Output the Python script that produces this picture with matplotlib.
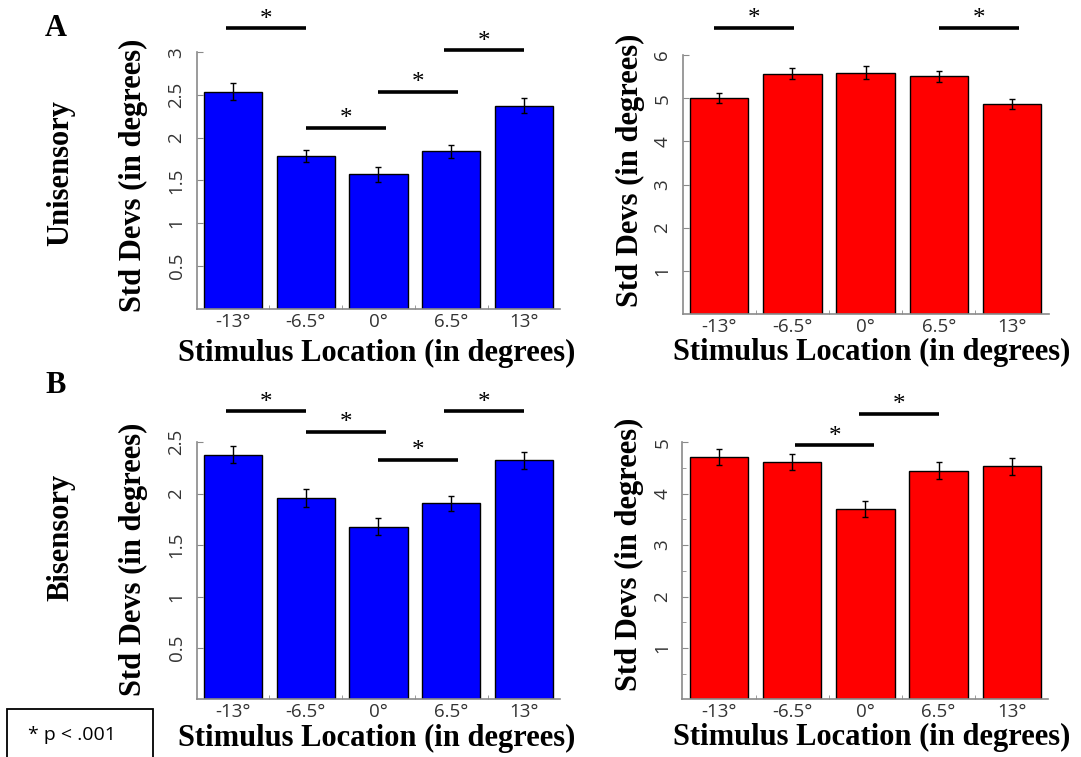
import matplotlib
matplotlib.use('Agg')
import matplotlib.pyplot as plt
from matplotlib.patches import Rectangle
import numpy as np

# stimulus locations (x categories)
locations = ['-13°', '-6.5°', '0°', '6.5°', '13°']

# A: unisensory
uni_vis = [2.535, 1.786, 1.571, 1.84, 2.375]
uni_vis_err = [0.10, 0.07, 0.085, 0.075, 0.09]
uni_aud = [5.01, 5.57, 5.59, 5.51, 4.87]
uni_aud_err = [0.12, 0.13, 0.15, 0.13, 0.12]

# B: bisensory
bi_vis = [2.38, 1.96, 1.68, 1.906, 2.325]
bi_vis_err = [0.085, 0.085, 0.085, 0.073, 0.084]
bi_aud = [4.71, 4.62, 3.70, 4.45, 4.53]
bi_aud_err = [0.15, 0.16, 0.15, 0.16, 0.16]

# significance bars: (from, to, height)
uni_vis_sig = [(0.9, 2.0, 3.28), (2.0, 3.1, 2.11), (3.0, 4.1, 2.535), (3.9, 5.0, 3.02)]
uni_aud_sig = [(0.93, 2.02, 6.63), (4.0, 5.1, 6.63)]
bi_vis_sig = [(0.9, 2.0, 2.80), (2.0, 3.1, 2.60), (3.0, 4.1, 2.33), (3.9, 5.0, 2.80)]
bi_aud_sig = [(2.04, 3.12, 4.94), (2.91, 4.0, 5.56)]

SERIF = 'Liberation Serif'
SANS = 'Open Sans'
W, H = 1081, 757

fig = plt.figure(figsize=(W / 100, H / 100), dpi=100)


def panel(rect, vals, errs, color, ymax, yticks, sig, yminor=None):
    ax = fig.add_axes(rect)
    x = np.arange(1, len(vals) + 1)
    ax.bar(x, vals, width=0.8, color=color, edgecolor='black', linewidth=1, zorder=2)
    ax.errorbar(x, vals, yerr=errs, fmt='none', ecolor='black', elinewidth=1,
                capsize=2.5, capthick=1, zorder=3)
    ax.set_xlim(0.5, 5.5)
    ax.set_ylim(0, ymax)
    ax.set_xticks(x)
    ax.set_xticklabels(locations, family=SANS)
    ax.set_xticks([1.5, 2.5, 3.5, 4.5], minor=True)
    ax.set_yticks(yticks)
    ax.set_yticklabels([f'{v:g}' for v in yticks], rotation=90, va='center', family=SANS)
    if yminor is not None:
        ax.set_yticks(yminor, minor=True)
    for s in ['top', 'right']:
        ax.spines[s].set_visible(False)
    for s in ['left', 'bottom']:
        ax.spines[s].set_color('#8a8a8a')
        ax.spines[s].set_linewidth(1.2)
    ax.tick_params(direction='in', color='#8a8a8a', labelsize=13.5, labelcolor='#333333')
    ax.tick_params(axis='x', which='major', length=0, pad=3)
    ax.tick_params(axis='y', which='major', length=4, pad=8)
    ax.tick_params(which='minor', direction='in', length=3, color='#8a8a8a')
    for x0, x1, h in sig:
        ax.plot([x0, x1], [h, h], color='black', lw=2.6, solid_capstyle='butt', clip_on=False)
        ax.annotate('*', xy=((x0 + x1) / 2, h), xytext=(0, 2), textcoords='offset points',
                    ha='center', va='baseline', fontsize=18, family=SERIF, annotation_clip=False)
    return ax


panel([196.7 / W, 1 - 308.5 / H, 363.5 / W, 256.3 / H], uni_vis, uni_vis_err, '#0000ff',
      3, [0.5, 1, 1.5, 2, 2.5, 3], uni_vis_sig)
panel([682.6 / W, 1 - 314.3 / H, 366 / W, 259.3 / H], uni_aud, uni_aud_err, '#ff0000',
      6, [1, 2, 3, 4, 5, 6], uni_aud_sig)
panel([196.7 / W, 1 - 699.3 / H, 363.5 / W, 257 / H], bi_vis, bi_vis_err, '#0000ff',
      2.5, [0.5, 1, 1.5, 2, 2.5], bi_vis_sig)
panel([682.4 / W, 1 - 699.3 / H, 366 / W, 257 / H], bi_aud, bi_aud_err, '#ff0000',
      5, [1, 2, 3, 4, 5], bi_aud_sig, yminor=[0.5, 1.5, 2.5, 3.5, 4.5])

lab = dict(fontsize=22, fontweight='bold', family=SERIF, ha='center', va='center')

# y labels
for xp, yp in [(133, 175), (630, 170), (133, 559), (629, 554)]:
    fig.text(xp / W, 1 - yp / H, 'Std Devs (in degrees)', rotation=90, **lab)

# x labels
for xp, yp in [(377, 353), (872, 352), (377, 738), (872, 737)]:
    fig.text(xp / W, 1 - yp / H, 'Stimulus Location (in degrees)', **lab)

# row labels
fig.text(61 / W, 1 - 173 / H, 'Unisensory', rotation=90, **lab)
fig.text(61 / W, 1 - 537 / H, 'Bisensory', rotation=90, **lab)
fig.text(56 / W, 1 - 29 / H, 'A', **lab)
fig.text(56 / W, 1 - 386 / H, 'B', **lab)

# legend box
fig.add_artist(Rectangle((7 / W, -0.02), 146 / W, (757 - 709) / H + 0.02,
                         transform=fig.transFigure, fill=False, edgecolor='black', lw=1.3))
fig.text(72 / W, 1 - 735 / H, '* p < .001', fontsize=14, family=SANS, ha='center', va='center')

fig.savefig('out.png', dpi=100)
